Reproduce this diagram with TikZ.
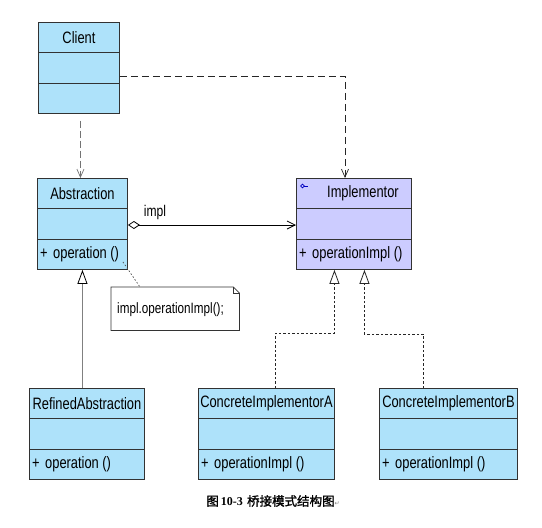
\documentclass[tikz,border=0pt]{standalone}
\usepackage{fontspec}
\setmainfont{Liberation Sans}[FakeStretch=0.78]
\newfontfamily\cjk{Noto Sans CJK SC}[FakeBold=1.5]
\newfontfamily\capfont{Liberation Serif}
\newfontfamily\symfont{DejaVu Sans}
\usetikzlibrary{arrows.meta,calc}
\definecolor{clsblue}{RGB}{174,226,250}
\definecolor{clsviolet}{RGB}{204,204,255}
\definecolor{edge}{RGB}{50,50,50}
\tikzset{
  umlbox/.style={draw=edge, line width=0.9pt, anchor=north west, inner sep=0pt, minimum height=91pt},
  divider/.style={draw=edge, line width=0.9pt},
  ctitle/.style={font=\fontsize{16.5}{18}\selectfont, inner sep=0pt},
  cop/.style={font=\fontsize{16.5}{18}\selectfont, inner sep=0pt, anchor=west},
  depgray/.style={draw=black!55, line width=0.8pt, dash pattern=on 7pt off 3pt, -{Straight Barb[length=8pt,width=7pt,line width=0.7pt]}},
  depdark/.style={draw=black!85, line width=0.8pt, dash pattern=on 7pt off 4pt, -{Straight Barb[length=8pt,width=7pt,line width=0.7pt]}},
  realize/.style={draw=black!85, line width=0.8pt, dash pattern=on 2.5pt off 2pt, -{Triangle[open,length=14pt,width=10pt,line width=0.8pt]}},
  inherit/.style={draw=black!50, line width=0.8pt, -{Triangle[open,length=14pt,width=10pt,line width=0.8pt,color=black]}},
  aggr/.style={draw=black, line width=0.8pt, {Diamond[open,length=12pt,width=8pt,line width=0.8pt]}-{Straight Barb[length=8pt,width=8pt,line width=0.8pt]}},
  notelink/.style={draw=black!70, line width=0.7pt, dash pattern=on 1.5pt off 2pt},
  notebox/.style={anchor=north west, inner sep=0pt, minimum width=128pt, minimum height=43pt},
  lbl/.style={font=\fontsize{15.5}{17}\selectfont, inner sep=0pt}
}
% name, x, y, width, title, operation line, fill, title shift
\newcommand\umlclass[8]{%
  \node[umlbox, fill=#7, minimum width=#4pt] (#1) at (#2,#3) {};
  \draw[divider] ($(#1.north west)+(0,30.5)$) -- ($(#1.north east)+(0,30.5)$);
  \draw[divider] ($(#1.north west)+(0,61)$) -- ($(#1.north east)+(0,61)$);
  \node[ctitle] (#1-title) at ($(#1.north)+(#8,15.5)$) {#5};
  \node[cop] (#1-op) at ($(#1.south west)+(3,-15.5)$) {#6};
}
\begin{document}
\begin{tikzpicture}[x=1pt,y=-1pt]
\useasboundingbox[fill=white] (0,0) rectangle (542,528);

\umlclass{client}{38}{22}{81}{Client}{}{clsblue}{0}
\umlclass{abstraction}{37}{178}{90}{Abstraction}{+\,\,operation ()}{clsblue}{0}
\umlclass{implementor}{296}{178}{115}{Implementor}{+\,\,operationImpl ()}{clsviolet}{9}
\umlclass{refined}{29}{388}{115}{RefinedAbstraction}{+\,\,operation ()}{clsblue}{0}
\umlclass{concA}{198}{388}{136}{ConcreteImplementorA}{+\,\,operationImpl ()}{clsblue}{0}
\umlclass{concB}{379}{388}{138}{ConcreteImplementorB}{+\,\,operationImpl ()}{clsblue}{0}

% interface icon of Implementor
\draw[blue!75!black, line width=0.7pt] ($(implementor.north west)+(6.5,8)$) circle (1.8pt);
\draw[blue!75!black, line width=0.7pt] ($(implementor.north west)+(8.3,8)$) -- ($(implementor.north west)+(12,8)$);

% note
\node[notebox] (note) at (111,287) {};
\draw[draw=black!80, line width=0.8pt, fill=white]
  (note.north west) -- ($(note.north east)+(-6,0)$) -- ($(note.north east)+(0,6)$)
  -- (note.south east) -- (note.south west) -- cycle;
\draw[draw=black!80, line width=0.6pt] ($(note.north east)+(-6,0)$) -- ($(note.north east)+(-6,6)$) -- ($(note.north east)+(0,6)$);
\node[font=\fontsize{15}{16}\selectfont, inner sep=0pt, anchor=west] (notetext) at ($(note.west)+(6,1)$) {impl.operationImpl();};
\draw[notelink] ($(abstraction.south east)+(-5,-8)$) -- ($(note.north west)+(29,0)$);

% dependencies from Client
\draw[depgray] ($(client.south)+(1.5,7)$) -- ($(abstraction.north)+(-2,0)$);
\draw[depdark] ($(client.north east)+(0,54)$) -| ($(implementor.north west)+(49,0)$);

% aggregation
\draw[aggr] ($(abstraction.north east)+(0,47)$) -- ($(implementor.north west)+(0,47)$);
\node[lbl] (impllabel) at (155,212) {impl};

% generalization / realization
\draw[inherit] (abstraction.south |- refined.north) -- (abstraction.south);
\draw[realize] ($(concA.north)+(9,0)$) |- ($(implementor.south)+(-19.5,63)$) -- ($(implementor.south)+(-19.5,0)$);
\draw[realize] ($(concB.north)+(-25,0)$) |- ($(implementor.south)+(10.5,64)$) -- ($(implementor.south)+(10.5,0)$);

% caption
\node[inner sep=0pt] (caption) at (273,501) {\cjk\fontsize{12.5}{14}\selectfont 图\,{\capfont\bfseries\fontsize{12}{14}\selectfont 10-3}\,\,桥接模式结构图{\symfont\fontsize{6}{7}\selectfont\color{black!50}↵}};
\end{tikzpicture}
\end{document}
